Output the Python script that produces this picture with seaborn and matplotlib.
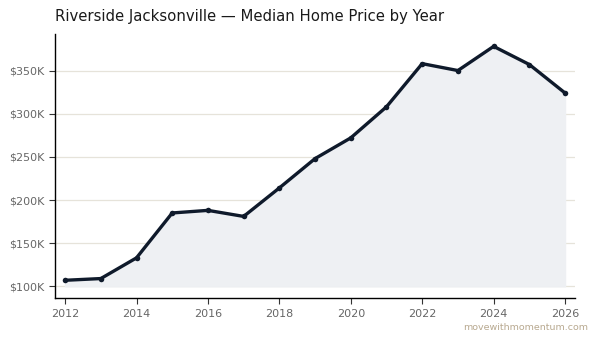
import matplotlib
matplotlib.use('Agg')
import matplotlib.pyplot as plt
import matplotlib.ticker as mticker
import seaborn as sns
import pandas as pd

# Median home price per year (in $K)
anos = [2012, 2013, 2014, 2015, 2016, 2017, 2018, 2019, 2020, 2021, 2022, 2023, 2024, 2025, 2026]
precos = [107, 109, 133, 185, 188, 181, 214, 248, 272, 308, 358, 350, 378, 357, 324]

df = pd.DataFrame({'ano': anos, 'preco': [p * 1000 for p in precos]})

cor_linha = '#0f1a2b'
cinza = '#666666'

sns.set_style('white')
fig, ax = plt.subplots(figsize=(5.99, 3.43), dpi=100)
fig.subplots_adjust(left=0.092, right=0.96, top=0.9, bottom=0.13)

ax.fill_between(df['ano'], df['preco'], 100000, color='#eef0f3', zorder=1)
sns.lineplot(data=df, x='ano', y='preco', ax=ax, color=cor_linha, linewidth=2.4,
             marker='o', markersize=4, markeredgewidth=0, zorder=3)

ax.set_xlim(2011.72, 2026.28)
ax.set_ylim(86000, 392000)
ax.set_xticks(range(2012, 2027, 2))
ax.yaxis.set_major_locator(mticker.MultipleLocator(50000))
ax.yaxis.set_major_formatter(mticker.FuncFormatter(lambda v, _: f'${v/1000:.0f}K'))
ax.set_xlabel('')
ax.set_ylabel('')
ax.grid(axis='y', color='#e6e3da', linewidth=0.9, zorder=0)
ax.set_axisbelow(True)
ax.tick_params(axis='both', labelsize=8, colors=cinza, length=4, width=0.8, left=True, bottom=True)
ax.tick_params(axis='both', color='#333333')
for lado in ['top', 'right']:
    ax.spines[lado].set_visible(False)
for lado in ['left', 'bottom']:
    ax.spines[lado].set_color('black')
    ax.spines[lado].set_linewidth(1.0)

fig.text(0.092, 0.952, 'Riverside Jacksonville — Median Home Price by Year',
         fontsize=10.7, color='#1a1a1a', ha='left', va='center')
fig.text(0.982, 0.045, 'movewithmomentum.com', fontsize=6.8, color='#b8a990',
         ha='right', va='center')

plt.savefig('out.png', dpi=100)
